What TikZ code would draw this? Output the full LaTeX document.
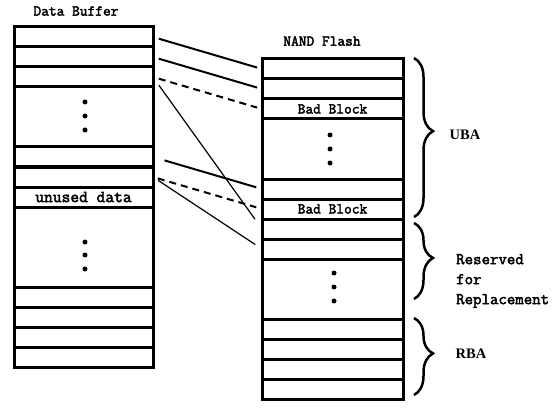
\documentclass[tikz,border=0pt]{standalone}
\usepackage{fontspec}
\newfontfamily\monob{Latin Modern Mono}[FakeBold=2.6]
\newfontfamily\lblserif{Liberation Serif}
\usetikzlibrary{decorations.pathreplacing}
\begin{document}
\begin{tikzpicture}[x=1pt,y=-1pt,
  cellL/.style={draw, line width=3pt, minimum width=139pt, inner sep=0pt, outer sep=0pt},
  cellR/.style={draw, line width=3pt, minimum width=141pt, inner sep=0pt, outer sep=0pt},
  monolbl/.style={font=\monob\fontsize{15}{17}\selectfont, inner sep=0pt},
  biglbl/.style={font=\monob\fontsize{17}{19}\selectfont, inner sep=0pt},
  sidelbl/.style={font=\monob\fontsize{16.4}{20}\selectfont, inner sep=0pt, align=left},
  seriflbl/.style={font=\lblserif\bfseries\fontsize{14.5}{16}\selectfont, inner sep=0pt},
  conn/.style={line width=2pt},
  thinconn/.style={line width=1.2pt},
  dashconn/.style={line width=2pt, dash pattern=on 7pt off 5pt},
  bracket/.style={line width=2.5pt, decorate, decoration={brace, amplitude=19pt, aspect=0.46}},
  dotmark/.style={fill=black}]
\useasboundingbox (0,0) rectangle (556,414);
% Data Buffer column
\node[monolbl] (dbuf) at (76,11) {Data Buffer};
\node[cellL, minimum height=20pt] (L1) at (83.5,37) {};
\node[cellL, minimum height=20pt] (L2) at (83.5,57) {};
\node[cellL, minimum height=20pt] (L3) at (83.5,77) {};
\node[cellL, minimum height=60pt] (L4) at (83.5,117) {};
\node[cellL, minimum height=20pt] (L5) at (83.5,157) {};
\node[cellL, minimum height=20pt] (L6) at (83.5,177) {};
\node[cellL, minimum height=20pt, biglbl] (L7) at (83.5,197) {unused data};
\node[cellL, minimum height=80pt] (L8) at (83.5,247) {};
\node[cellL, minimum height=20pt] (L9) at (83.5,297) {};
\node[cellL, minimum height=20pt] (L10) at (83.5,317) {};
\node[cellL, minimum height=20pt] (L11) at (83.5,337) {};
\node[cellL, minimum height=20pt] (L12) at (83.5,357) {};
\foreach \yy in {102,116,130,242,255,269} \fill[dotmark] (85,\yy) circle (2.5pt);
% NAND Flash column
\node[monolbl] (nand) at (322,41) {NAND Flash};
\node[cellR, minimum height=20pt] (R1) at (332.5,69) {};
\node[cellR, minimum height=20pt] (R2) at (332.5,89) {};
\node[cellR, minimum height=20pt, monolbl] (R3) at (332.5,109) {Bad Block};
\node[cellR, minimum height=60pt] (R4) at (332.5,149) {};
\node[cellR, minimum height=20pt] (R5) at (332.5,189) {};
\node[cellR, minimum height=20pt, monolbl] (R6) at (332.5,209) {Bad Block};
\node[cellR, minimum height=20pt] (R7) at (332.5,229) {};
\node[cellR, minimum height=20pt] (R8) at (332.5,249) {};
\node[cellR, minimum height=60pt] (R9) at (332.5,289) {};
\node[cellR, minimum height=20pt] (R10) at (332.5,329) {};
\node[cellR, minimum height=20pt] (R11) at (332.5,349) {};
\node[cellR, minimum height=20pt] (R12) at (332.5,369) {};
\node[cellR, minimum height=20pt] (R13) at (332.5,389) {};
\foreach \yy in {135,149,163} \fill[dotmark] (330,\yy) circle (2.5pt);
\foreach \yy in {273,287,301} \fill[dotmark] (334,\yy) circle (2.5pt);
% connectors
\draw[conn, shorten <=6pt, shorten >=5pt] (L1.east) -- (R1.west);
\draw[conn, shorten <=6pt, shorten >=5pt] (L2.east) -- (R2.west);
\draw[dashconn, shorten <=6pt, shorten >=5pt] (L3.east) -- (R3.west);
\draw[thinconn, shorten <=10pt, shorten >=12pt] (L3.east) -- (R7.west);
\draw[conn, shorten <=12pt, shorten >=6pt] (L5.east) -- (R5.west);
\draw[dashconn, shorten <=5pt, shorten >=6pt] (L6.east) -- (R6.west);
\draw[thinconn, shorten <=6pt, shorten >=8pt] (L6.east) -- (R8.west);
% braces
\coordinate (b1s) at (414,58);
\coordinate (b1e) at (414,217);
\coordinate (b2s) at (414,223);
\coordinate (b2e) at (414,299);
\coordinate (b3s) at (414,318);
\coordinate (b3e) at (414,395);
\draw[bracket] (b1s) -- (b1e);
\draw[bracket] (b2s) -- (b2e);
\draw[bracket] (b3s) -- (b3e);
\node[seriflbl] (uba) at (465,135) {UBA};
\node[sidelbl, anchor=west] (res) at (456,281) {Reserved\\for\\Replacement};
\node[seriflbl] (rba) at (471,354) {RBA};
\end{tikzpicture}
\end{document}
